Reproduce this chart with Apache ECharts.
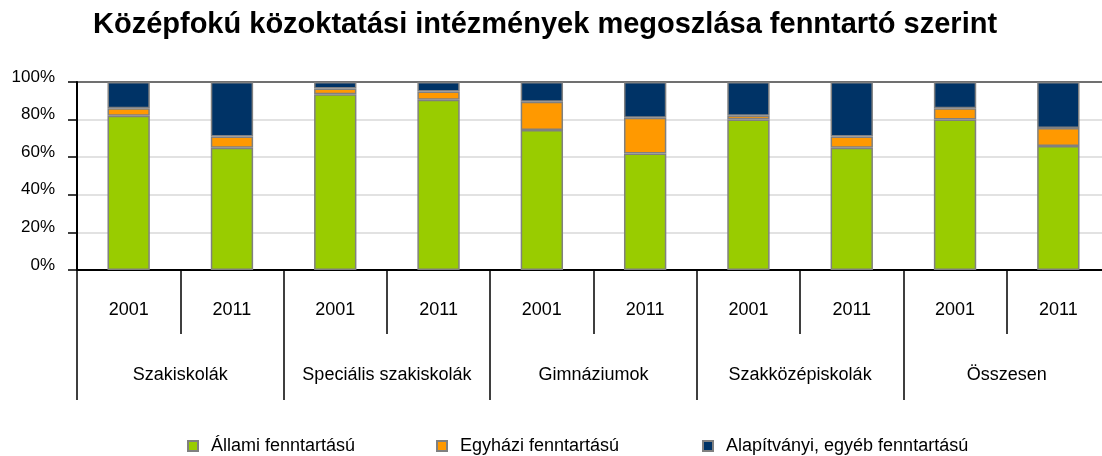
<!DOCTYPE html>
<html>
<head>
<meta charset="utf-8">
<script src="https://cdn.jsdelivr.net/npm/echarts@6/dist/echarts.min.js"></script>
<style>
html,body{margin:0;padding:0;background:#fff;}
#c{width:1102px;height:456px;}
</style>
</head>
<body>
<div id="c"></div>
<script>
const years = ['2001','2011','2001','2011','2001','2011','2001','2011','2001','2011'];
const groups = ['Szakiskolák','Speciális szakiskolák','Gimnáziumok','Szakközépiskolák','Összesen'];
const yTicks = [0,20,40,60,80,100];
const seriesNames = ['Állami fenntartású','Egyházi fenntartású','Alapítványi, egyéb fenntartású'];
const allami   = [82, 65, 93.5, 90.5, 74.5, 62, 80, 65, 80, 66];
const egyhazi  = [4, 6, 3, 4.5, 15, 19, 2, 6, 6, 9.5];
const alapitv  = [14, 29, 3.5, 5, 10.5, 19, 18, 29, 14, 24.5];
const colors = ['#99cc00','#ff9900','#003366'];

const chart = echarts.init(document.getElementById('c'), null, {renderer:'canvas'});
const font = 'Liberation Sans, Arial, sans-serif';
const values = [allami, egyhazi, alapitv];
const legendLeft = [182, 431, 697];
const option = {
  animation:false,
  backgroundColor:'#fff',
  title:{
    text:'Középfokú közoktatási intézmények megoszlása fenntartó szerint',
    left:88, top:5,
    textStyle:{fontFamily:font,fontWeight:'bold',fontSize:29,color:'#000'}
  },
  legend: seriesNames.map((n,i)=>({
    data:[n], left:legendLeft[i], top:432, icon:'rect', itemWidth:10, itemHeight:10,
    textStyle:{fontFamily:font,fontSize:18,color:'#000',padding:[0,0,0,8]},
    selectedMode:false
  })),
  grid:{left:77, top:82, width:1033, height:188, containLabel:false, outerBoundsMode:'none'},
  xAxis:[
    {type:'category', data:years, position:'bottom',
     axisLine:{show:true,lineStyle:{color:'#000',width:2}},
     axisTick:{show:true,interval:0,length:64,lineStyle:{color:'#000',width:1.5}},
     axisLabel:{interval:0,margin:31,fontFamily:font,fontSize:18,color:'#000'}},
    {type:'category', data:groups, position:'bottom',
     axisLine:{show:false},
     axisTick:{show:true,interval:0,length:130,lineStyle:{color:'#000',width:1.5}},
     axisLabel:{interval:0,margin:96,fontFamily:font,fontSize:18,color:'#000'}}
  ],
  yAxis:{type:'value', min:yTicks[0], max:yTicks[yTicks.length-1], interval:20,
    axisLine:{show:true,lineStyle:{color:'#000',width:2}},
    axisTick:{show:true,length:9,lineStyle:{color:'#000',width:1.5}},
    axisLabel:{formatter:'{value}%',margin:22,fontFamily:font,fontSize:17,color:'#000',verticalAlign:'bottom',lineHeight:10},
    splitLine:{show:true,lineStyle:{color:['#d9d9d9','#d9d9d9','#d9d9d9','#d9d9d9','#d9d9d9','#404040'],width:1.5}}
  },
  series: seriesNames.map((n,i)=>({
    name:n, type:'bar', stack:'a', xAxisIndex:0, barWidth:'41%',
    data:values[i],
    itemStyle:{color:colors[i],borderColor:'#808080',borderWidth:1.5}
  }))
};
chart.setOption(option);
</script>
</body>
</html>
